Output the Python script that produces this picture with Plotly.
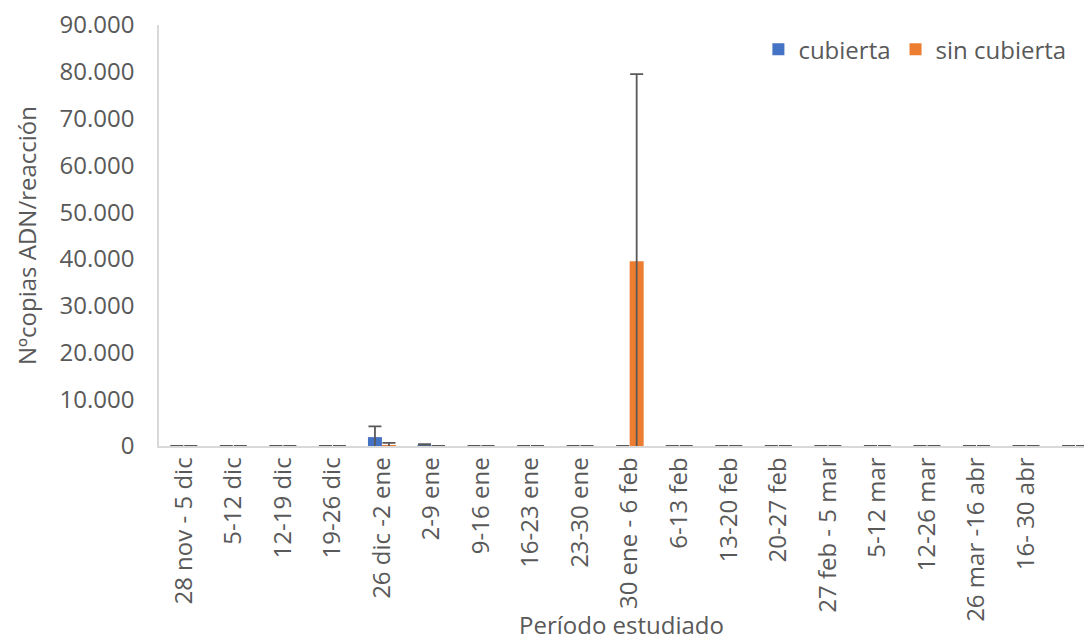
import plotly.graph_objects as go

# Sampling periods (last slot has no label)
periods = [
    "28 nov - 5 dic", "5-12 dic", "12-19 dic", "19-26 dic", "26 dic -2 ene",
    "2-9 ene", "9-16 ene", "16-23 ene", "23-30 ene", "30 ene - 6 feb",
    "6-13 feb", "13-20 feb", "20-27 feb", "27 feb - 5 mar", "5-12 mar",
    "12-26 mar", "26 mar -16 abr", "16- 30 abr", "",
]

# DNA copies per reaction (means) and their error values
cubierta = [0, 0, 0, 0, 1900, 150, 0, 0, 0, 0, 0, 0, 0, 0, 0, 0, 0, 0, 0]
cubierta_err = [0, 0, 0, 0, 2300, 250, 0, 0, 0, 0, 0, 0, 0, 0, 0, 0, 0, 0, 0]
sin_cubierta = [0, 0, 0, 0, 200, 0, 0, 0, 0, 39500, 0, 0, 0, 0, 0, 0, 0, 0, 0]
sin_cubierta_err = [0, 0, 0, 0, 450, 0, 0, 0, 0, 40000, 0, 0, 0, 0, 0, 0, 0, 0, 0]

y_ticks = [0, 10000, 20000, 30000, 40000, 50000, 60000, 70000, 80000, 90000]

FONT = "Open Sans"
FS = 24
TXT = "#595959"
ERR = "#595959"

x = list(range(len(periods)))

fig = go.Figure()
fig.add_trace(go.Bar(
    x=x, y=cubierta, name="cubierta",
    marker=dict(color="#4472C4", line=dict(width=0)),
    error_y=dict(type="data", array=cubierta_err, arrayminus=cubierta_err,
                 color=ERR, thickness=1.8, width=6.5),
))
fig.add_trace(go.Bar(
    x=x, y=sin_cubierta, name="sin cubierta",
    marker=dict(color="#ED7D31", line=dict(width=0)),
    error_y=dict(type="data", array=sin_cubierta_err, arrayminus=sin_cubierta_err,
                 color=ERR, thickness=1.8, width=6.5),
))

fig.update_layout(
    width=1084, height=641,
    margin=dict(l=159, r=0, t=25, b=195),
    paper_bgcolor="white", plot_bgcolor="white",
    font=dict(family=FONT, size=FS, color=TXT),
    separators=",.",
    barmode="group", bargap=0.435, bargroupgap=0,
    showlegend=True,
    legend=dict(orientation="h", x=0.648, y=0.995, xanchor="left", yanchor="top",
                font=dict(family=FONT, size=FS, color=TXT),
                itemwidth=30, tracegroupgap=0, bgcolor="rgba(0,0,0,0)"),
)

fig.update_xaxes(
    tickmode="array", tickvals=x, ticktext=periods,
    range=[-0.5, 18.17],
    tickangle=-90, ticks="",
    showline=True, linecolor="#D9D9D9", linewidth=1.5,
    showgrid=False, zeroline=False, automargin=False,
    tickfont=dict(family=FONT, size=FS, color=TXT),
    title=dict(text="Período estudiado", font=dict(family=FONT, size=FS, color=TXT),
               standoff=6),
)

fig.update_yaxes(
    range=[0, 90000], tickvals=y_ticks, tickformat=",d",
    showline=True, linecolor="#D9D9D9", linewidth=1.5,
    showgrid=False, zeroline=False, ticks="", automargin=False,
    ticklabelstandoff=18,
    tickfont=dict(family=FONT, size=FS, color=TXT),
    title=dict(text="Nºcopias ADN/reacción", font=dict(family=FONT, size=FS, color=TXT),
               standoff=16),
)

fig.write_html("out.html")
